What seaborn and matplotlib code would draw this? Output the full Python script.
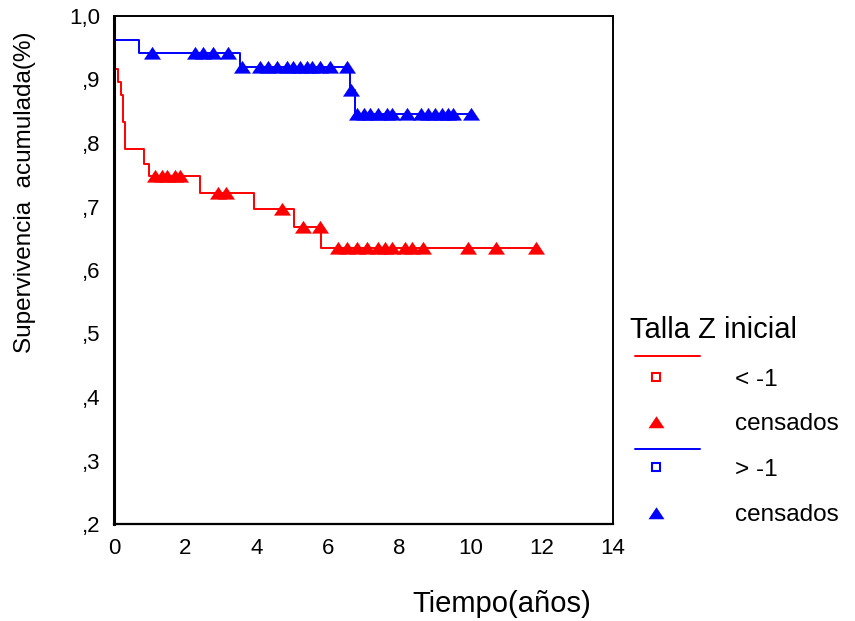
import numpy as np
import pandas as pd
import matplotlib
matplotlib.use("Agg")
import matplotlib.pyplot as plt
import seaborn as sns
from matplotlib.lines import Line2D
from matplotlib.ticker import FixedLocator, FuncFormatter

# ---------------- data ----------------
# Kaplan-Meier step curves: event times (years) and cumulative survival
times_r = [0.05, 0.12, 0.20, 0.26, 0.30, 0.84, 0.99, 2.42, 3.93, 5.06, 5.81, 11.83]
surv_r = [0.917, 0.896, 0.875, 0.833, 0.790, 0.767, 0.748, 0.721, 0.696, 0.668, 0.635, 0.635]

times_b = [0.0, 0.70, 3.54, 6.63, 6.77, 10.03]
surv_b = [0.962, 0.942, 0.920, 0.883, 0.846, 0.846]

# censored observations (years)
cens_r = [1.15, 1.35, 1.50, 1.70, 1.85, 2.92, 3.15, 4.72, 5.31, 5.79,
          6.29, 6.54, 6.83, 7.11, 7.42, 7.61, 7.81, 8.17, 8.37, 8.68,
          9.92, 10.73, 11.83]
cens_b = [1.07, 2.28, 2.50, 2.78, 3.20, 3.58, 4.10, 4.33, 4.58, 4.86,
          5.03, 5.22, 5.42, 5.56, 5.79, 6.07, 6.54, 6.65, 6.83, 7.00,
          7.19, 7.42, 7.67, 7.81, 8.23, 8.60, 8.82, 9.02, 9.21, 9.38,
          9.52, 10.03]

group_labels = ["< -1", "> -1"]
censor_label = "censados"
legend_title = "Talla Z inicial"
x_ticks = [0, 2, 4, 6, 8, 10, 12, 14]
y_ticks = [0.2, 0.3, 0.4, 0.5, 0.6, 0.7, 0.8, 0.9, 1.0]
x_label = "Tiempo(años)"
y_label = "Supervivencia  acumulada(%)"

RED = "#ff0000"
BLUE = "#0000ff"


def surv_at(t_list, times, surv):
    idx = np.searchsorted(np.asarray(times), np.asarray(t_list), side="right") - 1
    idx = np.clip(idx, 0, len(surv) - 1)
    return np.asarray(surv)[idx]


df_r = pd.DataFrame({"t": times_r, "s": surv_r})
df_b = pd.DataFrame({"t": times_b, "s": surv_b})
dc_r = pd.DataFrame({"t": cens_r, "s": surv_at(cens_r, times_r, surv_r)})
dc_b = pd.DataFrame({"t": cens_b, "s": surv_at(cens_b, times_b, surv_b)})

# ---------------- plotting ----------------
sns.set_theme(style="white")
plt.rcParams["font.family"] = ["Liberation Sans", "DejaVu Sans"]
plt.rcParams["text.color"] = "black"
plt.rcParams["axes.labelcolor"] = "black"
plt.rcParams["xtick.color"] = "black"
plt.rcParams["ytick.color"] = "black"

W, H = 855, 621
fig = plt.figure(figsize=(W / 100, H / 100), dpi=100)
ax = fig.add_axes([114 / W, 1 - 524 / H, (613 - 114) / W, (524 - 16) / H])

tri = [(-1.0, -0.72), (1.0, -0.72), (0.0, 0.78), (-1.0, -0.72)]

sns.lineplot(data=df_r, x="t", y="s", drawstyle="steps-post", color=RED,
             lw=1.4, sort=False, estimator=None, ax=ax)
sns.lineplot(data=df_b, x="t", y="s", drawstyle="steps-post", color=BLUE,
             lw=1.4, sort=False, estimator=None, ax=ax)
sns.scatterplot(data=dc_r, x="t", y="s", marker=tri, color=RED, s=150,
                linewidth=0, ax=ax, zorder=3)
sns.scatterplot(data=dc_b, x="t", y="s", marker=tri, color=BLUE, s=150,
                linewidth=0, ax=ax, zorder=3)

ax.set_xlim(0, 14)
ax.set_ylim(0.2, 1.0)
ax.xaxis.set_major_locator(FixedLocator(x_ticks))
ax.yaxis.set_major_locator(FixedLocator(y_ticks))


def yfmt(v, pos):
    if abs(v - 1.0) < 1e-9:
        return "1,0"
    return "," + str(int(round(v * 10)))


ax.yaxis.set_major_formatter(FuncFormatter(yfmt))
ax.xaxis.set_major_formatter(FuncFormatter(lambda v, p: str(int(round(v)))))

for side in ["left", "bottom", "top", "right"]:
    ax.spines[side].set_visible(True)
    ax.spines[side].set_color("black")
ax.spines["left"].set_linewidth(2.2)
ax.spines["bottom"].set_linewidth(1.6)
ax.spines["top"].set_linewidth(1.4)
ax.spines["right"].set_linewidth(1.4)

ax.tick_params(axis="both", which="major", direction="out", length=4,
               width=2.2, color="black", labelsize=16, labelcolor="black")
ax.tick_params(axis="y", pad=6)
ax.tick_params(axis="x", pad=6)
ax.grid(False)

ax.set_xlabel(x_label, fontsize=21, color="black")
ax.xaxis.set_label_coords((502 - 114) / 499, (524 - 604) / 508)
ax.xaxis.label.set_va("center")
ax.set_ylabel(y_label, fontsize=17.5, color="black")
ax.yaxis.set_label_coords((25 - 114) / 499, (524 - 192) / 508)
ax.yaxis.label.set_va("center")


# ---------------- legend (drawn by hand, SPSS style) ----------------
def fx(x):
    return x / W


def fy(y):
    return 1 - y / H


fig.text(fx(630), fy(330), legend_title, fontsize=21, va="center", ha="left",
         color="black")

legend_rows = [
    (RED, 356, 377, 422, group_labels[0]),
    (BLUE, 449, 467, 513, group_labels[1]),
]
for col, yl, ysq, ytri, lab in legend_rows:
    fig.add_artist(Line2D([fx(635), fx(700)], [fy(yl), fy(yl)], color=col,
                          lw=1.4, transform=fig.transFigure))
    fig.add_artist(Line2D([fx(656)], [fy(ysq)], marker="s", ls="none",
                          mfc="white", mec=col, mew=1.5, ms=6,
                          transform=fig.transFigure))
    fig.add_artist(Line2D([fx(656)], [fy(ytri)], marker=tri, ls="none",
                          mfc=col, mec=col, mew=0, ms=11.5,
                          transform=fig.transFigure))
    fig.text(fx(735), fy(ysq + 3), lab, fontsize=17.5, va="center", ha="left",
             color="black")
    fig.text(fx(735), fy(ytri + 2), censor_label, fontsize=17.5, va="center",
             ha="left", color="black")

fig.savefig("out.png", dpi=100, facecolor="white")
